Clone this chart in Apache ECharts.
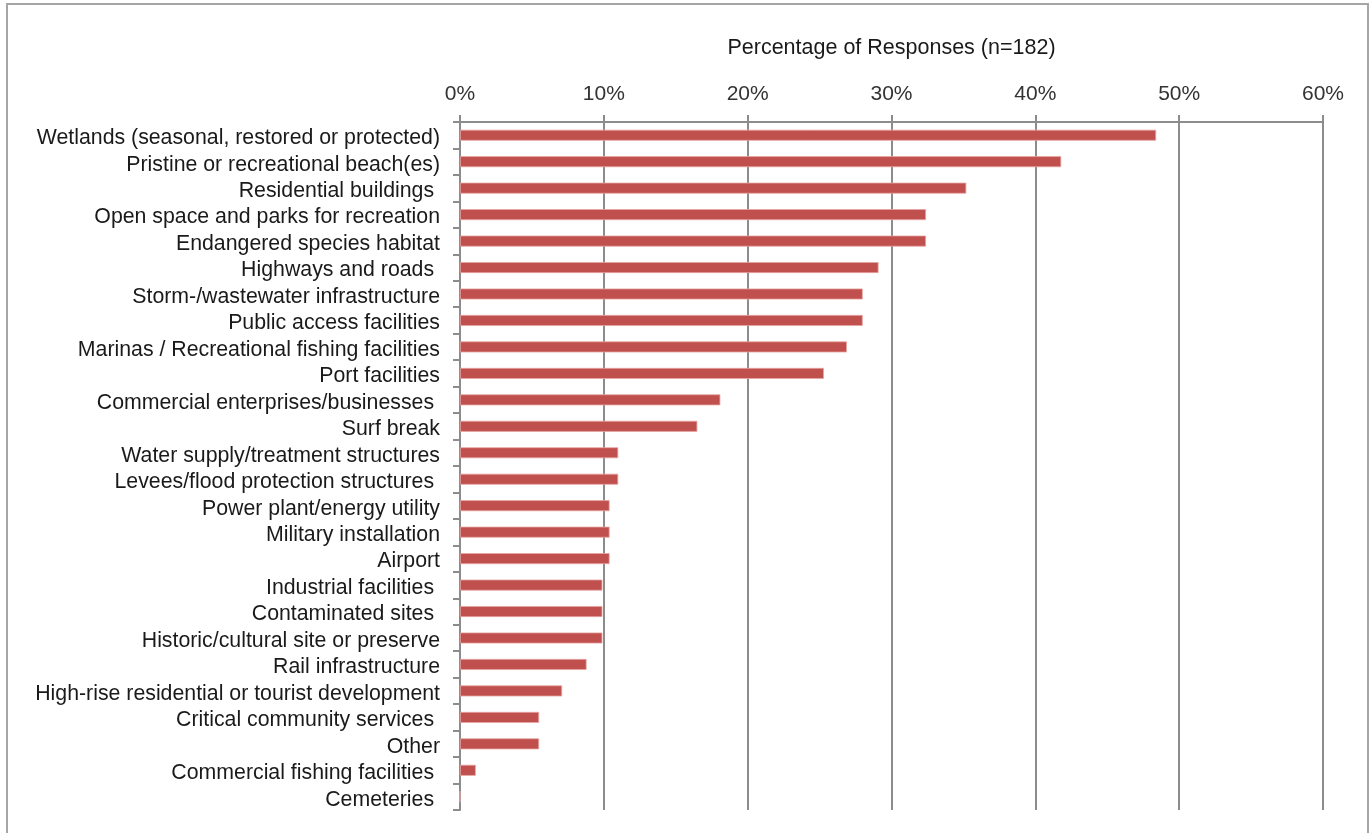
<!DOCTYPE html>
<html>
<head>
<meta charset="utf-8">
<script src="https://cdn.jsdelivr.net/npm/echarts@6/dist/echarts.min.js"></script>
<style>
  html, body { margin: 0; padding: 0; background: #fff; }
  #chart { width: 1372px; height: 833px; }
</style>
</head>
<body>
<div id="chart"></div>
<script>
// Assets at risk, share of survey responses (n=182)
const categories = [
  'Wetlands (seasonal, restored or protected)',
  'Pristine or recreational beach(es)',
  'Residential buildings ',
  'Open space and parks for recreation',
  'Endangered species habitat',
  'Highways and roads ',
  'Storm-/wastewater infrastructure',
  'Public access facilities',
  'Marinas / Recreational fishing facilities',
  'Port facilities',
  'Commercial enterprises/businesses ',
  'Surf break',
  'Water supply/treatment structures',
  'Levees/flood protection structures ',
  'Power plant/energy utility',
  'Military installation',
  'Airport',
  'Industrial facilities ',
  'Contaminated sites ',
  'Historic/cultural site or preserve',
  'Rail infrastructure',
  'High-rise residential or tourist development',
  'Critical community services ',
  'Other',
  'Commercial fishing facilities ',
  'Cemeteries '
];

const percentages = [
  48.4, 41.8, 35.2, 32.4, 32.4, 29.1, 28.0, 28.0, 26.9, 25.3,
  18.1, 16.5, 11.0, 11.0, 10.4, 10.4, 10.4, 9.9, 9.9, 9.9,
  8.8, 7.1, 5.5, 5.5, 1.1, 0
];

const xTicks = { min: 0, max: 60, interval: 10 };

const FONT = '"Liberation Sans", "DejaVu Sans", sans-serif';
const AXIS_GREY = '#8c8c8c';
const chart = echarts.init(document.getElementById('chart'));

chart.setOption({
  animation: false,
  backgroundColor: '#fff',
  graphic: [{
    type: 'rect',
    shape: { x: 7, y: 4, width: 1361, height: 840 },
    style: { fill: 'none', stroke: '#a6a6a6', lineWidth: 2 },
    silent: true
  }],
  grid: { left: 460, right: 49, top: 122, bottom: 23, containLabel: false },
  xAxis: {
    type: 'value',
    position: 'top',
    min: xTicks.min,
    max: xTicks.max,
    interval: xTicks.interval,
    name: 'Percentage of Responses (n=182)',
    nameLocation: 'middle',
    nameGap: 63,
    nameTextStyle: { fontFamily: FONT, fontSize: 21.5, color: '#1a1a1a' },
    axisLine: { show: true, lineStyle: { color: AXIS_GREY, width: 2 } },
    axisTick: { show: true, length: 7, lineStyle: { color: AXIS_GREY, width: 2 } },
    axisLabel: {
      margin: 17,
      fontFamily: FONT,
      fontSize: 21,
      color: '#333',
      formatter: '{value}%'
    },
    splitLine: { show: true, lineStyle: { color: AXIS_GREY, width: 2 } }
  },
  yAxis: {
    type: 'category',
    data: categories,
    inverse: true,
    axisLine: { show: true, lineStyle: { color: AXIS_GREY, width: 2 } },
    axisTick: { show: true, length: 7, alignWithLabel: false, lineStyle: { color: AXIS_GREY, width: 2 } },
    axisLabel: {
      margin: 20,
      interval: 0,
      formatter: (v) => '{c|' + v + '}',
      rich: {
        c: {
          padding: [6, 0, 0, 0],
          fontFamily: FONT,
          fontSize: 21.3,
          color: '#1a1a1a'
        }
      }
    },
    splitLine: { show: false }
  },
  series: [{
    type: 'bar',
    data: percentages,
    barWidth: 11,
    itemStyle: { color: '#c0504d', borderColor: '#e7a5a3', borderWidth: 0.8 },
    silent: true
  }]
});
</script>
</body>
</html>
